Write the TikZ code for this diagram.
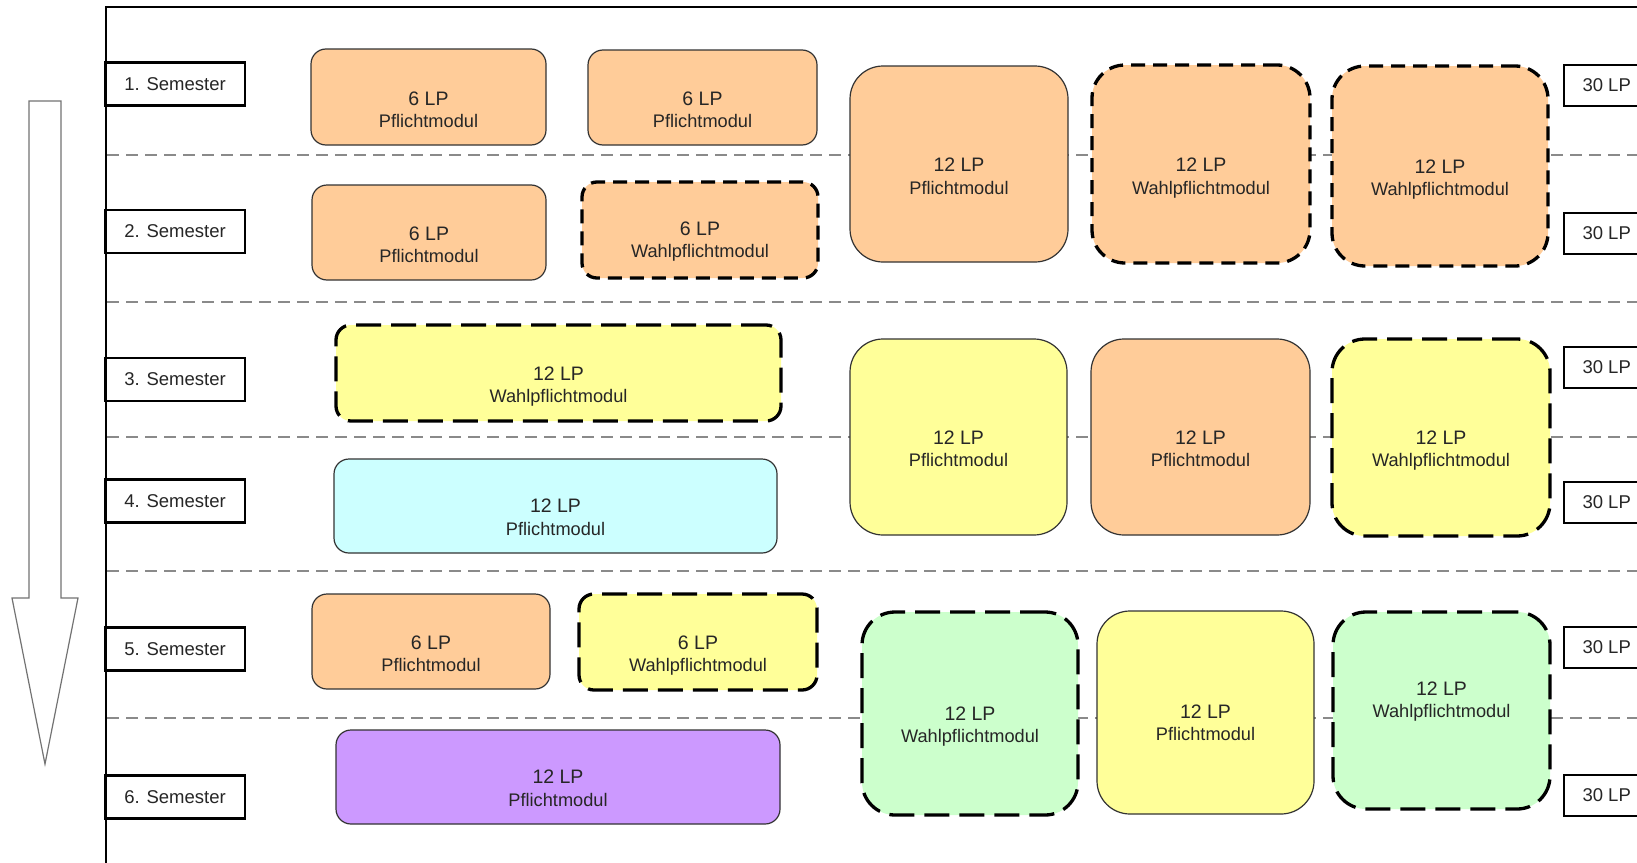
\documentclass[tikz,border=0pt]{standalone}
\usepackage{fontspec}
\setmainfont{Liberation Sans}
\definecolor{modorange}{HTML}{FFCC99}
\definecolor{modyellow}{HTML}{FFFF99}
\definecolor{modcyan}{HTML}{CCFFFF}
\definecolor{modgreen}{HTML}{CCFFCC}
\definecolor{modpurple}{HTML}{CC99FF}
\definecolor{sepgray}{HTML}{8A8A8A}
\tikzset{
  pflicht/.style={draw=black!80, line width=1.2pt, rectangle, inner sep=0pt},
  wahl/.style={draw=black, line width=3.3pt, dash pattern=on 14pt off 8pt, rectangle, inner sep=0pt},
  wahllong/.style={draw=black, line width=3.3pt, dash pattern=on 25pt off 10pt, rectangle, inner sep=0pt},
  smallr/.style={rounded corners=15pt},
  bigr/.style={rounded corners=33pt},
  lineone/.style={font=\fontsize{19.5}{22}\selectfont, text=black!85, inner sep=0pt},
  linetwo/.style={font=\fontsize{18.2}{22}\selectfont, text=black!85, inner sep=0pt},
  sembox/.style={draw=black, line width=2.2pt, rectangle, inner sep=0pt, minimum width=140pt, minimum height=43pt, font=\fontsize{18.5}{22}\selectfont, text=black!85},
  lpbox/.style={draw=black, line width=2pt, rectangle, anchor=west, inner xsep=18.5pt, inner ysep=0pt, minimum height=41pt, font=\fontsize{18.5}{22}\selectfont, text=black!85},
  sepline/.style={draw=sepgray, line width=2pt, dash pattern=on 12pt off 7pt},
  frameline/.style={draw=black, line width=2pt},
  bigarrow/.style={draw=black!55, line width=1.2pt, fill=white, line join=miter}
}
\newcommand\modul[9]{%
  \node[#2, minimum width={#5-#3}, minimum height={#6-#4}] (#1) at ({(#3+#5)/2},{(#4+#6)/2}) {};
  \node[lineone, anchor=base] (#1-a) at ({(#3+#5)/2},{#7}) {#8};
  \node[linetwo, anchor=base] (#1-b) at ({(#3+#5)/2},{#7+22.3}) {#9};
}
\begin{document}
\begin{tikzpicture}[x=1pt,y=-1pt]
\clip (0,0) rectangle (1637,862);
\fill[white] (0,0) rectangle (1637,862);

% separators
\foreach \yy in {155,302,436.5,570.5,718}{
  \draw[sepline] (107,\yy) -- (1637,\yy);
}

% frame
\draw[frameline] (106,863) -- (106,7) -- (1640,7);

% big arrow
\draw[bigarrow] (29,101) -- (61,101) -- (61,598) -- (78,598) -- (45,764) -- (12,598) -- (29,598) -- cycle;

% semester labels
\node[sembox] (sem1) at (175,84) {1. Semester};
\node[sembox] (sem2) at (175,231.5) {2. Semester};
\node[sembox] (sem3) at (175,379.5) {3. Semester};
\node[sembox] (sem4) at (175,501) {4. Semester};
\node[sembox] (sem5) at (175,649) {5. Semester};
\node[sembox] (sem6) at (175,797) {6. Semester};

% credit boxes
\node[lpbox] (lp1) at (1563,85) {30 LP};
\node[lpbox] (lp2) at (1563,233.5) {30 LP};
\node[lpbox] (lp3) at (1563,367) {30 LP};
\node[lpbox] (lp4) at (1563,502) {30 LP};
\node[lpbox] (lp5) at (1563,647) {30 LP};
\node[lpbox] (lp6) at (1563,795.5) {30 LP};

% semester 1-2
\modul{mA}{pflicht,smallr,fill=modorange}{311}{49}{546}{145}{105}{6 LP}{Pflichtmodul}
\modul{mB}{pflicht,smallr,fill=modorange}{588}{50}{817}{145}{105}{6 LP}{Pflichtmodul}
\modul{mC}{pflicht,smallr,fill=modorange}{312}{185}{546}{280}{240}{6 LP}{Pflichtmodul}
\modul{mD}{wahl,smallr,fill=modorange}{582}{182}{818}{278}{235}{6 LP}{Wahlpflichtmodul}
\modul{mF}{pflicht,bigr,fill=modorange}{850}{66}{1068}{262}{171.7}{12 LP}{Pflichtmodul}
\modul{mG}{wahl,bigr,fill=modorange}{1092}{65}{1310}{263}{171.7}{12 LP}{Wahlpflichtmodul}
\modul{mH}{wahl,bigr,fill=modorange}{1332}{66}{1548}{266}{173.3}{12 LP}{Wahlpflichtmodul}

% semester 3-4
\modul{mE}{wahllong,smallr,fill=modyellow}{336}{325}{781}{421}{380}{12 LP}{Wahlpflichtmodul}
\modul{mO}{pflicht,smallr,fill=modcyan}{334}{459}{777}{553}{512.7}{12 LP}{Pflichtmodul}
\modul{mI}{pflicht,bigr,fill=modyellow}{850}{339}{1067}{535}{444}{12 LP}{Pflichtmodul}
\modul{mJ}{pflicht,bigr,fill=modorange}{1091}{339}{1310}{535}{444}{12 LP}{Pflichtmodul}
\modul{mK}{wahllong,bigr,fill=modyellow}{1332}{339}{1550}{536}{444}{12 LP}{Wahlpflichtmodul}

% semester 5-6
\modul{mP}{pflicht,smallr,fill=modorange}{312}{594}{550}{689}{649}{6 LP}{Pflichtmodul}
\modul{mQ}{wahllong,smallr,fill=modyellow}{579}{594}{817}{690}{649}{6 LP}{Wahlpflichtmodul}
\modul{mR}{pflicht,smallr,fill=modpurple}{336}{730}{780}{824}{783.7}{12 LP}{Pflichtmodul}
\modul{mL}{wahllong,bigr,fill=modgreen}{862}{612}{1078}{815}{720}{12 LP}{Wahlpflichtmodul}
\modul{mM}{pflicht,bigr,fill=modyellow}{1097}{611}{1314}{814}{718}{12 LP}{Pflichtmodul}
\modul{mN}{wahllong,bigr,fill=modgreen}{1333}{612}{1550}{809}{695}{12 LP}{Wahlpflichtmodul}
\end{tikzpicture}
\end{document}
